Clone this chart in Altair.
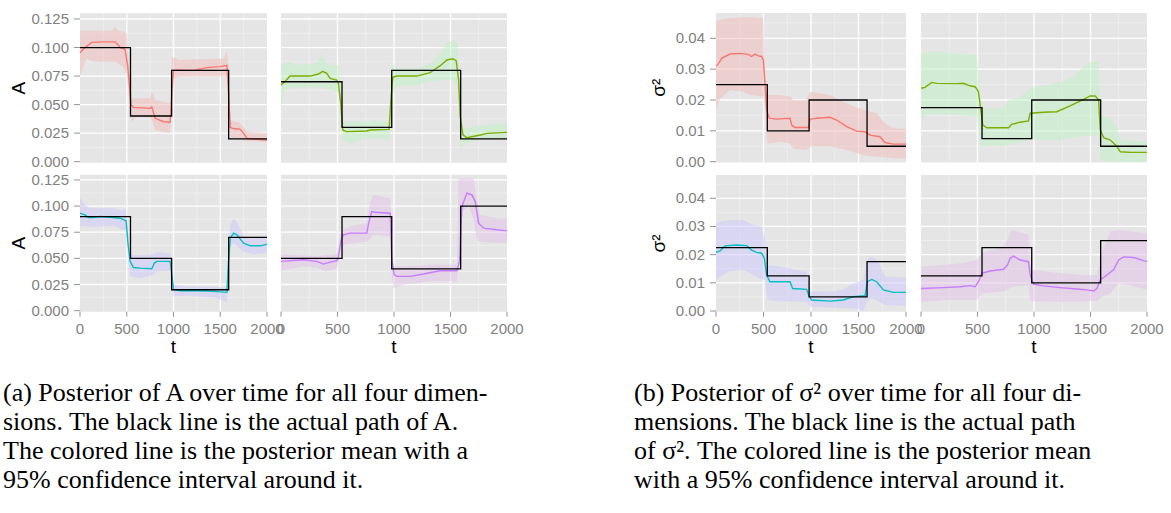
import altair as alt
import pandas as pd

# ---------------- data ----------------
T_CHANGE = [0, 540, 980, 1590, 2000]

TRUE_A1 = [0.100, 0.040, 0.080, 0.020]
TRUE_A2 = [0.070, 0.030, 0.080, 0.020]
TRUE_A3 = [0.090, 0.050, 0.020, 0.070]
TRUE_A4 = [0.050, 0.090, 0.040, 0.100]
TRUE_S1 = [0.025, 0.010, 0.020, 0.005]
TRUE_S2 = [0.0175, 0.0075, 0.020, 0.005]
TRUE_S3 = [0.0225, 0.0125, 0.005, 0.0175]
TRUE_S4 = [0.0125, 0.0225, 0.010, 0.025]

MEAN_A1 = [(0,0.0955),(54,0.1000),(125,0.1045),(250,0.1050),(375,0.1050),(411,0.1020),(429,0.1000),(482,0.0985),(511,0.0832),(546,0.0496),(571,0.0476),(750,0.0467),(768,0.0480),(804,0.0380),(893,0.0350),(964,0.0345),(982,0.0600),(1000,0.0803),(1214,0.0800),(1357,0.0824),(1500,0.0833),(1571,0.0844),(1593,0.0550),(1607,0.0300),(1643,0.0290),(1714,0.0283),(1750,0.0248),(1786,0.0204),(1893,0.0196),(2000,0.0190)]
BAND_A1 = [(0,0.0760,0.1150),(70,0.0905,0.1148),(150,0.0876,0.1148),(350,0.0876,0.1150),(375,0.0876,0.1183),(411,0.0860,0.1148),(464,0.0830,0.1139),(500,0.0770,0.1124),(536,0.0450,0.0686),(554,0.0350,0.0555),(600,0.0390,0.0555),(750,0.0390,0.0555),(768,0.0360,0.0613),(804,0.0277,0.0540),(964,0.0248,0.0511),(982,0.0730,0.0920),(1071,0.0745,0.0891),(1536,0.0745,0.0905),(1571,0.0745,0.0964),(1589,0.0600,0.0832),(1607,0.0204,0.0365),(1714,0.0190,0.0336),(1786,0.0180,0.0263),(2000,0.0175,0.0248)]

MEAN_A2 = [(0,0.0672),(35,0.0701),(80,0.0750),(257,0.0750),(331,0.0768),(369,0.0791),(405,0.0774),(434,0.0730),(493,0.0715),(508,0.0686),(529,0.0511),(547,0.0277),(582,0.0263),(759,0.0269),(789,0.0277),(957,0.0283),(972,0.0540),(990,0.0739),(1025,0.0750),(1202,0.0750),(1320,0.0780),(1409,0.0841),(1468,0.0891),(1521,0.0902),(1551,0.0882),(1572,0.0715),(1586,0.0394),(1610,0.0234),(1645,0.0210),(1764,0.0234),(1823,0.0248),(2000,0.0257)]
BAND_A2 = [(0,0.0488,0.0847),(35,0.0628,0.0860),(80,0.0640,0.0876),(109,0.0650,0.0847),(316,0.0650,0.0860),(360,0.0650,0.0950),(390,0.0640,0.0876),(434,0.0628,0.0847),(508,0.0613,0.0847),(529,0.0390,0.0657),(547,0.0190,0.0350),(612,0.0160,0.0350),(700,0.0190,0.0350),(789,0.0204,0.0350),(818,0.0204,0.0370),(848,0.0200,0.0350),(957,0.0190,0.0350),(981,0.0570,0.0860),(1025,0.0663,0.0818),(1202,0.0670,0.0818),(1320,0.0700,0.0860),(1409,0.0716,0.0950),(1468,0.0716,0.1037),(1527,0.0716,0.1066),(1563,0.0657,0.1037),(1580,0.0307,0.0686),(1592,0.0088,0.0400),(1601,0.0120,0.0290),(1630,0.0160,0.0290),(1764,0.0190,0.0320),(2000,0.0204,0.0336)]

MEAN_A3 = [(0,0.0932),(54,0.0916),(89,0.0891),(143,0.0891),(214,0.0900),(357,0.0891),(429,0.0884),(493,0.0859),(511,0.0662),(536,0.0471),(571,0.0413),(643,0.0407),(768,0.0401),(796,0.0455),(821,0.0471),(964,0.0471),(982,0.0344),(1000,0.0200),(1071,0.0191),(1286,0.0191),(1429,0.0184),(1571,0.0175),(1586,0.0439),(1607,0.0693),(1643,0.0741),(1678,0.0725),(1750,0.0646),(1821,0.0620),(1929,0.0620),(2000,0.0636)]
BAND_A3 = [(0,0.0805,0.1075),(54,0.0814,0.1010),(107,0.0800,0.0980),(357,0.0814,0.0980),(446,0.0773,0.0960),(493,0.0773,0.0980),(511,0.0560,0.0757),(536,0.0328,0.0534),(643,0.0310,0.0528),(786,0.0344,0.0540),(821,0.0375,0.0560),(964,0.0380,0.0550),(982,0.0250,0.0440),(1000,0.0137,0.0248),(1143,0.0146,0.0232),(1429,0.0127,0.0232),(1571,0.0083,0.0216),(1589,0.0280,0.0600),(1607,0.0600,0.0820),(1643,0.0646,0.0878),(1678,0.0620,0.0850),(1750,0.0560,0.0710),(1857,0.0540,0.0687),(2000,0.0550,0.0710)]

MEAN_A4 = [(0,0.0471),(198,0.0487),(316,0.0471),(375,0.0445),(434,0.0464),(493,0.0477),(508,0.0518),(529,0.0662),(552,0.0725),(611,0.0741),(759,0.0741),(774,0.0827),(803,0.0948),(833,0.0941),(966,0.0932),(981,0.0503),(1001,0.0344),(1025,0.0328),(1143,0.0328),(1261,0.0350),(1409,0.0382),(1557,0.0382),(1580,0.0471),(1601,0.0996),(1645,0.1123),(1690,0.1107),(1719,0.1043),(1749,0.0837),(1793,0.0789),(1911,0.0773),(2000,0.0763)]
BAND_A4 = [(0,0.0382,0.0534),(198,0.0423,0.0528),(316,0.0413,0.0520),(390,0.0375,0.0530),(493,0.0400,0.0540),(508,0.0450,0.0598),(523,0.0566,0.0700),(552,0.0630,0.0773),(611,0.0640,0.0805),(759,0.0660,0.0837),(789,0.0693,0.1040),(818,0.0725,0.1107),(966,0.0710,0.1075),(981,0.0344,0.0661),(996,0.0216,0.0423),(1084,0.0248,0.0423),(1320,0.0280,0.0439),(1557,0.0280,0.0439),(1572,0.0470,0.1266),(1601,0.0948,0.1266),(1660,0.0996,0.1266),(1704,0.0880,0.1266),(1734,0.0677,0.1043),(1764,0.0660,0.0916),(1911,0.0646,0.0884),(2000,0.0646,0.0884)]

MEAN_S1 = [(0,0.0310),(25,0.0317),(60,0.0335),(147,0.0349),(253,0.0351),(340,0.0348),(375,0.0341),(411,0.0349),(446,0.0343),(481,0.0341),(498,0.0330),(516,0.0254),(533,0.0168),(561,0.0141),(639,0.0138),(779,0.0141),(797,0.0119),(832,0.0111),(972,0.0111),(990,0.0137),(1060,0.0141),(1200,0.0144),(1270,0.0135),(1376,0.0114),(1481,0.0099),(1569,0.0097),(1621,0.0086),(1726,0.0081),(1779,0.0062),(1867,0.0057),(2000,0.0057)]
BAND_S1 = [(0,0.0168,0.0454),(42,0.0205,0.0460),(147,0.0232,0.0465),(288,0.0227,0.0468),(358,0.0216,0.0468),(498,0.0211,0.0465),(516,0.0178,0.0265),(540,0.0059,0.0216),(674,0.0065,0.0216),(779,0.0059,0.0211),(814,0.0043,0.0200),(954,0.0038,0.0200),(990,0.0049,0.0227),(1200,0.0049,0.0216),(1376,0.0038,0.0189),(1551,0.0022,0.0168),(1691,0.0016,0.0157),(1779,0.0014,0.0124),(1867,0.0011,0.0108),(2000,0.0011,0.0106)]

MEAN_S2 = [(0,0.0238),(35,0.0241),(95,0.0257),(139,0.0254),(316,0.0253),(375,0.0254),(434,0.0246),(479,0.0243),(508,0.0227),(529,0.0168),(547,0.0119),(582,0.0110),(774,0.0110),(803,0.0121),(877,0.0128),(951,0.0132),(966,0.0157),(1084,0.0160),(1202,0.0162),(1320,0.0181),(1439,0.0202),(1498,0.0213),(1542,0.0213),(1572,0.0200),(1586,0.0103),(1616,0.0078),(1675,0.0070),(1734,0.0049),(1764,0.0032),(1852,0.0030),(2000,0.0030)]
BAND_S2 = [(0,0.0130,0.0351),(35,0.0151,0.0355),(109,0.0154,0.0357),(346,0.0151,0.0351),(434,0.0148,0.0350),(493,0.0146,0.0346),(529,0.0049,0.0200),(547,0.0049,0.0173),(730,0.0052,0.0173),(774,0.0054,0.0200),(877,0.0062,0.0209),(966,0.0070,0.0238),(1202,0.0070,0.0254),(1320,0.0076,0.0270),(1439,0.0083,0.0308),(1513,0.0085,0.0324),(1572,0.0086,0.0324),(1586,0.0005,0.0151),(1675,0.0000,0.0140),(1734,0.0000,0.0114),(1764,0.0000,0.0070),(2000,0.0000,0.0065)]

MEAN_S3 = [(0,0.0208),(42,0.0213),(95,0.0231),(218,0.0234),(323,0.0232),(375,0.0216),(428,0.0208),(481,0.0205),(509,0.0187),(533,0.0128),(568,0.0104),(779,0.0104),(807,0.0080),(954,0.0077),(983,0.0051),(1007,0.0039),(1200,0.0035),(1340,0.0039),(1446,0.0051),(1569,0.0054),(1593,0.0104),(1639,0.0112),(1691,0.0104),(1762,0.0075),(1867,0.0066),(2000,0.0066)]
BAND_S3 = [(0,0.0110,0.0311),(42,0.0122,0.0317),(147,0.0142,0.0323),(288,0.0146,0.0323),(393,0.0128,0.0305),(481,0.0112,0.0300),(516,0.0110,0.0258),(540,0.0039,0.0163),(674,0.0035,0.0157),(954,0.0033,0.0140),(990,0.0015,0.0069),(1200,0.0012,0.0069),(1340,0.0010,0.0075),(1446,0.0009,0.0098),(1551,0.0002,0.0110),(1593,0.0033,0.0181),(1639,0.0045,0.0193),(1709,0.0035,0.0175),(1779,0.0021,0.0122),(2000,0.0019,0.0118)]

MEAN_S4 = [(0,0.0080),(198,0.0083),(346,0.0086),(434,0.0090),(479,0.0086),(508,0.0104),(538,0.0134),(611,0.0142),(730,0.0148),(765,0.0163),(789,0.0187),(818,0.0195),(877,0.0181),(951,0.0175),(966,0.0128),(996,0.0095),(1084,0.0089),(1232,0.0083),(1380,0.0078),(1468,0.0075),(1527,0.0071),(1557,0.0080),(1586,0.0110),(1645,0.0128),(1704,0.0146),(1749,0.0181),(1793,0.0192),(1882,0.0190),(1970,0.0179),(2000,0.0175)]
BAND_S4 = [(0,0.0031,0.0157),(198,0.0039,0.0163),(346,0.0039,0.0169),(493,0.0039,0.0181),(538,0.0063,0.0205),(730,0.0069,0.0228),(774,0.0078,0.0258),(803,0.0086,0.0288),(907,0.0090,0.0276),(951,0.0092,0.0270),(966,0.0036,0.0163),(981,0.0035,0.0146),(1232,0.0033,0.0134),(1439,0.0034,0.0128),(1557,0.0036,0.0128),(1601,0.0051,0.0205),(1675,0.0063,0.0282),(1749,0.0098,0.0288),(1852,0.0092,0.0282),(2000,0.0075,0.0276)]

X_MAJOR = [0, 500, 1000, 1500, 2000]
X_LABELS = ["0", "500", "1000", "1500", "2000"]
X_GRID_MAJOR = [500, 1000, 1500]
X_GRID_MINOR = [250, 750, 1250, 1750]

A_MAJOR = [0.0, 0.025, 0.05, 0.075, 0.1, 0.125]
A_LABELS = ["0.000", "0.025", "0.050", "0.075", "0.100", "0.125"]
A_MINOR = [0.0125, 0.0375, 0.0625, 0.0875, 0.1125]
S_MAJOR = [0.0, 0.01, 0.02, 0.03, 0.04]
S_LABELS = ["0.00", "0.01", "0.02", "0.03", "0.04"]
S_MINOR = [0.005, 0.015, 0.025, 0.035, 0.045]

LINE_COLORS = ["#F8766D", "#7CAE00", "#00BFC4", "#C77CFF"]
FILL_COLORS = ["#F3BBBB", "#BFF1C3", "#CBC7FB", "#E3BFE7"]

CAPTION_A = ["(a) Posterior of A over time for all four dimen-",
             "sions.  The black line is the actual path of A.",
             "The colored line is the posterior mean with a",
             "95% confidence interval around it."]
CAPTION_B = ["(b) Posterior of \u03c3\u00b2 over time for all four di-",
             "mensions.  The black line is the actual path",
             "of \u03c3\u00b2. The colored line is the posterior mean",
             "with a 95% confidence interval around it."]

# ---------------- layout (pixel ranges of the panels) ----------------
COLS_A = [(80, 267), (281, 507)]
COLS_S = [(716, 906), (921, 1147)]
ROWS_A = [(162.8, 13.3), (311.7, 174.7)]
ROWS_S = [(162.6, 13.0), (311.85, 174.9)]
DOM_A = [(-0.001, 0.13), (-0.001, 0.13)]
DOM_S = [(-0.0003, 0.0482), (-0.0003, 0.0483)]

LABEL_FONT = "Liberation Sans"
TICK_GREY = "#7F7F7F"


def panel(xr, yr, dom, true, mean, band, idx, family, left, bottom):
    xs = alt.Scale(domain=[0, 2000], range=list(xr), nice=False, zero=False)
    ys = alt.Scale(domain=list(dom), range=list(yr), nice=False, zero=False)
    d0, d1 = dom
    X = lambda f: alt.X(f, type="quantitative", scale=xs, axis=None)
    Y = lambda f: alt.Y(f, type="quantitative", scale=ys, axis=None)
    major = A_MAJOR if family == "A" else S_MAJOR
    minor = A_MINOR if family == "A" else S_MINOR
    labels = A_LABELS if family == "A" else S_LABELS

    layers = []
    bg = pd.DataFrame({"x0": [0], "x1": [2000], "y0": [d0], "y1": [d1]})
    layers.append(alt.Chart(bg).mark_rect(color="#E5E5E5").encode(
        x=X("x0"), x2="x1", y=Y("y0"), y2="y1"))

    vmin = pd.DataFrame({"t": X_GRID_MINOR, "y0": d0, "y1": d1})
    layers.append(alt.Chart(vmin).mark_rule(color="#F2F2F2", strokeWidth=0.7).encode(
        x=X("t"), y=Y("y0"), y2="y1"))
    hmin = pd.DataFrame({"v": minor, "x0": 0, "x1": 2000})
    layers.append(alt.Chart(hmin).mark_rule(color="#F2F2F2", strokeWidth=0.7).encode(
        x=X("x0"), x2="x1", y=Y("v")))
    vmaj = pd.DataFrame({"t": X_GRID_MAJOR, "y0": d0, "y1": d1})
    layers.append(alt.Chart(vmaj).mark_rule(color="#FFFFFF", strokeWidth=1.3).encode(
        x=X("t"), y=Y("y0"), y2="y1"))
    hmaj = pd.DataFrame({"v": [m for m in major if m > 0], "x0": 0, "x1": 2000})
    layers.append(alt.Chart(hmaj).mark_rule(color="#FFFFFF", strokeWidth=1.3).encode(
        x=X("x0"), x2="x1", y=Y("v")))

    bdf = pd.DataFrame(band, columns=["t", "lo", "hi"])
    layers.append(alt.Chart(bdf).mark_area(color=FILL_COLORS[idx], opacity=0.5).encode(
        x=X("t"), y=Y("lo"), y2="hi"))

    mdf = pd.DataFrame(mean, columns=["t", "v"])
    layers.append(alt.Chart(mdf).mark_line(color=LINE_COLORS[idx], strokeWidth=1.4).encode(
        x=X("t"), y=Y("v")))

    tdf = pd.DataFrame({"t": T_CHANGE, "v": true + [true[-1]]})
    layers.append(alt.Chart(tdf).mark_line(color="black", strokeWidth=1.3,
                                           interpolate="step-after").encode(
        x=X("t"), y=Y("v")))

    if left:
        ydf = pd.DataFrame({"v": major, "lab": labels, "x0": 0})
        layers.append(alt.Chart(ydf).mark_tick(orient="horizontal", size=6, thickness=1,
                                               xOffset=-3, color="#666666").encode(
            x=X("x0"), y=Y("v")))
        layers.append(alt.Chart(ydf).mark_text(align="right", baseline="middle", dx=-11,
                                               fontSize=15, font=LABEL_FONT,
                                               color=TICK_GREY).encode(
            x=X("x0"), y=Y("v"), text="lab:N"))
    if bottom:
        xdf = pd.DataFrame({"t": X_MAJOR, "lab": X_LABELS, "y0": d0})
        layers.append(alt.Chart(xdf).mark_tick(orient="vertical", size=5, thickness=1,
                                               yOffset=2.5, color="#666666").encode(
            x=X("t"), y=Y("y0")))
        layers.append(alt.Chart(xdf).mark_text(align="center", baseline="top", dy=10,
                                               fontSize=15, font=LABEL_FONT,
                                               color=TICK_GREY).encode(
            x=X("t"), y=Y("y0"), text="lab:N"))
        tt = pd.DataFrame({"t": [1000], "y0": [d0], "lab": ["t"]})
        layers.append(alt.Chart(tt).mark_text(align="center", baseline="alphabetic", dy=41,
                                              fontSize=19, font=LABEL_FONT,
                                              color="black").encode(
            x=X("t"), y=Y("y0"), text="lab:N"))
    if left:
        yt = pd.DataFrame({"mid": [(d0 + d1) / 2], "lab": ["A" if family == "A" else "\u03c3\u00b2"]})
        layers.append(alt.Chart(yt).mark_text(angle=270, align="center", baseline="alphabetic",
                                              fontSize=19, font=LABEL_FONT,
                                              color="black").encode(
            x=alt.value(25 if family == "A" else 665), y=Y("mid"), text="lab:N"))
    return alt.layer(*layers)


panels = []
A_SETS = [(TRUE_A1, MEAN_A1, BAND_A1), (TRUE_A2, MEAN_A2, BAND_A2),
          (TRUE_A3, MEAN_A3, BAND_A3), (TRUE_A4, MEAN_A4, BAND_A4)]
S_SETS = [(TRUE_S1, MEAN_S1, BAND_S1), (TRUE_S2, MEAN_S2, BAND_S2),
          (TRUE_S3, MEAN_S3, BAND_S3), (TRUE_S4, MEAN_S4, BAND_S4)]
for i in range(4):
    r, c = divmod(i, 2)
    tr, mn, bd = A_SETS[i]
    panels.append(panel(COLS_A[c], ROWS_A[r], DOM_A[r], tr, mn, bd, i, "A", c == 0, r == 1))
    tr, mn, bd = S_SETS[i]
    panels.append(panel(COLS_S[c], ROWS_S[r], DOM_S[r], tr, mn, bd, i, "S", c == 0, r == 1))


def caption(lines, x):
    df = pd.DataFrame({"lab": ["\n".join(lines)]})
    return alt.Chart(df).mark_text(align="left", baseline="alphabetic", lineBreak="\n",
                                   lineHeight=29, fontSize=26, font="Liberation Serif",
                                   color="black").encode(
        x=alt.value(x), y=alt.value(401), text="lab:N")


chart = alt.layer(*panels, caption(CAPTION_A, 3), caption(CAPTION_B, 634)).resolve_scale(
    x="independent", y="independent"
).properties(
    width=1171, height=513, padding=0,
    autosize=alt.AutoSizeParams(type="none"),
    background="white",
).configure_view(stroke=None)

chart.save("out.html", embed_options={"renderer": "svg", "actions": False})
